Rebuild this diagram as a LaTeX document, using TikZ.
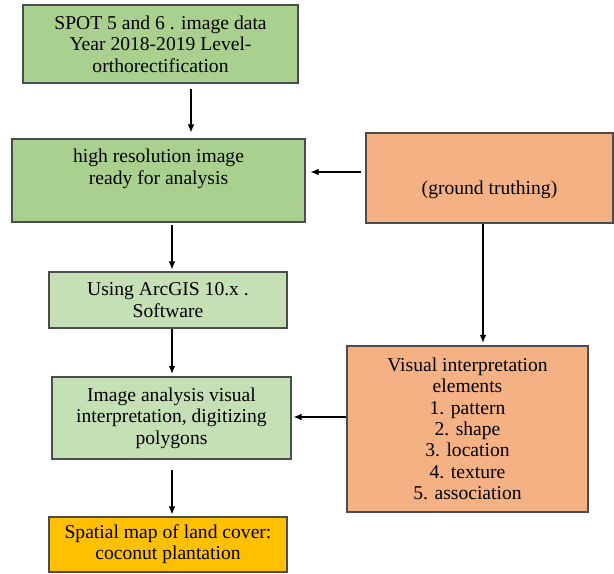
\documentclass[tikz,border=0pt]{standalone}
\usepackage{fontspec}
\setmainfont{Liberation Serif}
\usetikzlibrary{positioning,arrows.meta}

\definecolor{boxgreen}{HTML}{A9D08E}
\definecolor{palegreen}{HTML}{C5E0B4}
\definecolor{boxorange}{HTML}{F4B183}
\definecolor{boxyellow}{HTML}{FFC000}

\tikzset{
  stage/.style={draw=black!70, line width=0.8pt, align=center, inner sep=2pt,
    font=\rmfamily\fontsize{14.7}{16}\selectfont},
  flow/.style={-{Latex[length=6pt,width=5pt]}, line width=0.8pt}
}

\begin{document}
\begin{tikzpicture}[x=0.75pt, y=-0.75pt]
  \useasboundingbox (0,0) rectangle (614,574);
  % left column
  \node[stage, fill=boxgreen, minimum width=206.25pt, minimum height=58.5pt] (spot) at (160.5,44)
    {SPOT 5 and 6 . image data\\Year 2018-2019 Level-\\orthorectification};
  \node[stage, fill=boxgreen, minimum width=219.75pt, minimum height=62.25pt] (hires) at (158.5,180.5)
    {high resolution image\\ready for analysis\\\strut};
  \node[stage, fill=palegreen, minimum width=178.5pt, minimum height=42pt] (arcgis) at (168,300)
    {Using ArcGIS 10.x .\\Software};
  \node[stage, fill=palegreen, minimum width=179.25pt, minimum height=61.5pt] (analysis) at (171.5,418)
    {Image analysis visual\\interpretation, digitizing\\polygons};
  \node[stage, fill=boxyellow, minimum width=178.5pt, minimum height=41.25pt] (spatial) at (168,544.5)
    {Spatial map of land cover:\\coconut plantation};
  % right column
  \node[stage, fill=boxorange, minimum width=185.25pt, minimum height=67.5pt] (ground) at (489.5,178)
    {\strut\\(ground truthing)};
  \node[stage, fill=boxorange, minimum width=180.75pt, minimum height=124.5pt] (visual) at (467.5,429)
    {Visual interpretation\\elements\\1. pattern\\2. shape\\3. location\\4. texture\\5. association};

  \coordinate (colA) at (191,0);
  \coordinate (colB) at (172,0);
  \coordinate (colC) at (483,0);
  \coordinate (rowA) at (0,172);
  \coordinate (rowB) at (0,417);

  \draw[flow, shorten <=3.75pt, shorten >=4.5pt] (spot.south -| colA) -- (hires.north -| colA);
  \draw[flow, shorten <=2pt, shorten >=1.5pt] (hires.south -| colB) -- (arcgis.north -| colB);
  \draw[flow, shorten >=2pt] (arcgis.south -| colB) -- (analysis.north -| colB);
  \draw[flow, shorten <=7.5pt, shorten >=1.5pt] (analysis.south -| colB) -- (spatial.north -| colB);
  \draw[flow, shorten <=3pt, shorten >=3.75pt] (ground.west |- rowA) -- (hires.east |- rowA);
  \draw[flow, shorten >=2pt] (ground.south -| colC) -- (visual.north -| colC);
  \draw[flow, shorten >=1.5pt] (visual.west |- rowB) -- (analysis.east |- rowB);
\end{tikzpicture}
\end{document}
